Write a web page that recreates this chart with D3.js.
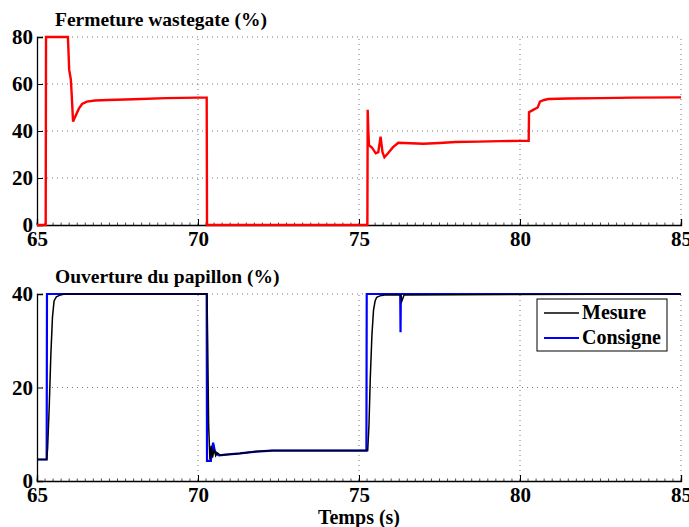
<!DOCTYPE html>
<html>
<head>
<meta charset="utf-8">
<script src="https://cdn.jsdelivr.net/npm/d3@7"></script>
<style>
  body { margin: 0; background: #fff; }
  svg text { font-family: "Liberation Serif", "Times New Roman", Times, serif !important; font-weight: bold; }
  .grid line { stroke: #777; stroke-width: 1; stroke-dasharray: 1,4; }
</style>
</head>
<body>
<svg width="689" height="527"></svg>
<script>
// Axis ticks
var timeTicks = [65, 70, 75, 80, 85];
var wgTicks = [0, 20, 40, 60, 80];
var thTicks = [0, 20, 40];

// Fermeture wastegate (%) - red
var wgT = [65, 65.27, 65.28, 65.96, 66.0, 66.05, 66.08, 66.12, 66.2, 66.3, 66.4, 66.55, 66.8, 67.2, 68, 69, 70, 70.27, 70.28,
           75.26, 75.27, 75.29, 75.31, 75.4, 75.52, 75.6, 75.67, 75.73, 75.79, 75.9, 76.05, 76.22, 76.6, 77.0, 77.5, 78.0, 78.7, 79.4, 80.0, 80.27,
           80.28, 80.41, 80.55, 80.62, 80.75, 80.88, 81.5, 82.5, 83.5, 85];
var wgV = [0, 0, 80, 80, 66, 62, 55, 44, 46.5, 49.5, 51.5, 52.5, 53, 53.2, 53.5, 54, 54.2, 54.2, 0,
           0, 49, 40, 34, 33, 30.5, 31, 37.6, 31, 28.8, 30.5, 33, 35, 34.8, 34.6, 34.9, 35.3, 35.5, 35.7, 35.8, 35.8,
           48, 49, 50, 52.5, 53.2, 53.6, 53.8, 54, 54.2, 54.3];

// Ouverture du papillon (%) - Consigne (blue)
var consT = [65, 65.3, 65.31, 70.27, 70.28, 70.4, 70.42, 70.47, 70.52, 70.58, 70.65, 70.8, 71.3, 71.8, 72.3, 75.23, 75.24, 76.28, 76.29, 76.3, 85];
var consV = [4.6, 4.6, 40, 40, 4.3, 4.3, 6, 8.2, 6.5, 5.8, 5.5, 5.6, 5.9, 6.3, 6.5, 6.5, 40, 40, 31.8, 40, 40];

// Ouverture du papillon (%) - Mesure (black)
var mesT = [65, 65.3, 65.33, 65.38, 65.43, 65.48, 65.53, 65.6, 65.7, 65.85, 70.28, 70.3, 70.33, 70.37, 70.41, 70.45, 70.5, 70.55, 70.6, 70.7, 70.8,
            71.3, 71.8, 72.3, 75.27, 75.31, 75.35, 75.4, 75.45, 75.5, 75.55, 75.65, 75.8, 76.3, 76.33, 76.4, 85];
var mesV = [4.6, 4.6, 7, 16, 27, 35, 38.5, 39.4, 39.7, 40, 40, 30, 12, 4.6, 7.5, 5, 6.8, 5.4, 6, 5.5, 5.6,
            5.9, 6.3, 6.5, 6.5, 12, 22, 31, 36.5, 38.5, 39.3, 39.6, 39.8, 39.8, 38.5, 39.8, 40];

var svg = d3.select("svg");
var left = 37, right = 681;

var x = d3.scaleLinear().domain([65, 85]).range([left, right]);
var yTop = d3.scaleLinear().domain([0, 80]).range([225, 37]);
var yBot = d3.scaleLinear().domain([0, 40]).range([481, 294]);

function drawAxes(y, yTicks, title) {
  var y0 = y.range()[0], y1 = y.range()[1];
  var g = svg.append("g");

  // dotted grid
  var grid = g.append("g").attr("class", "grid");
  grid.selectAll(".gx").data(timeTicks.slice(1))
    .enter().append("line")
      .attr("x1", function(d) { return x(d); }).attr("x2", function(d) { return x(d); })
      .attr("y1", y0).attr("y2", y1);
  grid.selectAll(".gy").data(yTicks.slice(1))
    .enter().append("line")
      .attr("x1", left).attr("x2", right)
      .attr("y1", function(d) { return y(d); }).attr("y2", function(d) { return y(d); });

  // x axis with inward ticks
  var xa = g.append("g")
    .attr("transform", "translate(0," + y0 + ")")
    .call(d3.axisBottom(x).tickValues(timeTicks).tickSize(-6).tickPadding(8).tickFormat(d3.format("d")));
  xa.selectAll("text").style("font-size", "21px").attr("fill", "#000").attr("dy", "0.6em");
  xa.select(".domain").attr("stroke-width", 1.3);

  // minor ticks
  g.append("g").selectAll("line")
    .data(d3.range(65, 85.001, 0.25))
    .enter().append("line")
      .attr("x1", function(d) { return x(d); }).attr("x2", function(d) { return x(d); })
      .attr("y1", y0).attr("y2", y0 - 2.5)
      .attr("stroke", "#000").attr("stroke-width", 0.7);

  var ya = g.append("g")
    .attr("transform", "translate(" + left + ",0)")
    .call(d3.axisLeft(y).tickValues(yTicks).tickSize(-6).tickPadding(4).tickFormat(d3.format("d")));
  ya.selectAll("text").style("font-size", "21px").attr("fill", "#000");
  ya.select(".domain").attr("stroke-width", 1.3);

  g.append("text")
    .attr("x", 55).attr("y", y1 - 11)
    .text(title)
    .style("font-size", "19.5px");
}

drawAxes(yTop, wgTicks, "Fermeture wastegate (%)");
drawAxes(yBot, thTicks, "Ouverture du papillon (%)");

var lineTop = d3.line().x(function(d) { return x(d[0]); }).y(function(d) { return yTop(d[1]); });
var lineBot = d3.line().x(function(d) { return x(d[0]); }).y(function(d) { return yBot(d[1]); });

svg.append("path")
  .datum(d3.zip(wgT, wgV))
  .attr("d", lineTop)
  .attr("fill", "none").attr("stroke", "#ff0000").attr("stroke-width", 2.4);

svg.append("path")
  .datum(d3.zip(consT, consV))
  .attr("d", lineBot)
  .attr("fill", "none").attr("stroke", "#0000ff").attr("stroke-width", 2.2);

svg.append("path")
  .datum(d3.zip(mesT, mesV))
  .attr("d", lineBot)
  .attr("fill", "none").attr("stroke", "#000").attr("stroke-width", 1.5);

// Legend
var legend = svg.append("g").attr("transform", "translate(537,299)");
legend.append("rect")
  .attr("width", 130).attr("height", 52)
  .attr("fill", "#fff").attr("stroke", "#000").attr("stroke-width", 1);
var items = [["Mesure", "#000", 1.5], ["Consigne", "#0000ff", 2.2]];
items.forEach(function(it, i) {
  var yy = 14 + i * 25;
  legend.append("line")
    .attr("x1", 7).attr("x2", 42).attr("y1", yy).attr("y2", yy)
    .attr("stroke", it[1]).attr("stroke-width", it[2]);
  legend.append("text")
    .attr("x", 45).attr("y", yy + 6)
    .text(it[0])
    .style("font-size", "20px");
});

svg.append("text")
  .attr("x", (left + right) / 2).attr("y", 524)
  .attr("text-anchor", "middle")
  .text("Temps (s)")
  .style("font-size", "20px");
</script>
</body>
</html>
